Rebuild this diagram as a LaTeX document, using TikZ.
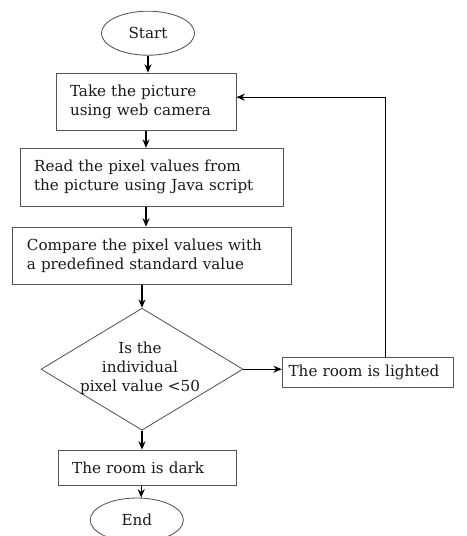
\documentclass[tikz,border=0pt]{standalone}
\usepackage{fontspec}
\setmainfont{DejaVu Serif}
\usepackage{xcolor}
\usepackage{tikz}
\usetikzlibrary{shapes.geometric, arrows.meta, positioning, calc}
\definecolor{edgegray}{HTML}{555555}
\definecolor{textdark}{HTML}{1A1A1A}
\tikzset{
  basenode/.style={draw=edgegray, line width=0.6pt, text=textdark, font=\fontsize{10.8}{13.5}\selectfont, inner sep=0pt},
  termnode/.style={basenode, ellipse, minimum width=2.33cm, minimum height=1.1cm},
  procbox/.style={basenode, rectangle, align=left, text width=#1, inner xsep=0.35cm},
  decnode/.style={basenode, diamond, minimum width=5.05cm, minimum height=3.05cm},
  dectxt/.style={align=center, text=textdark, font=\fontsize{10.8}{13.5}\selectfont, inner sep=0pt},
  arr/.style={-{Stealth[length=6pt, width=5pt]}, line width=0.8pt, black}
}
\begin{document}
\begin{tikzpicture}
\useasboundingbox (0,0) rectangle (11.65,-13.4);

% ===== MAIN COLUMN =====
\node[termnode] (ST) at (3.7, -0.83) {Start};
\node[procbox=3.8cm, minimum height=1.425cm] (TK) at (3.65, -2.54)
  {Take the picture\\using web camera};
\node[procbox=5.875cm, minimum height=1.45cm] (RD) at (3.79, -4.43)
  {Read the pixel values from\\the picture using Java script};
\node[procbox=6.275cm, minimum height=1.425cm] (CMP) at (3.81, -6.39)
  {Compare the pixel values with\\a predefined standard value};
\node[decnode, label={[dectxt, xshift=-0.05cm, yshift=0.03cm]center:Is the\\individual\\pixel value <50}]
  (DEC) at (3.55, -9.23) {};
\node[procbox=3.75cm, minimum height=0.875cm] (DRK) at (3.68, -11.69) {The room is dark};
\node[termnode] (EN) at (3.42, -13.0) {End};

% ===== SIDE BRANCH =====
\node[procbox=3.95cm, inner xsep=0.16cm, minimum height=0.75cm] (LIT) at (9.19, -9.3)
  {The room is lighted};
\coordinate (FB) at (9.63, -2.43);

% ===== MAIN FLOW ARROWS =====
\draw[arr] (ST.south) -- (ST.south |- TK.north);
\draw[arr] (TK.south) -- (TK.south |- RD.north);
\draw[arr] ([xshift=-0.14cm]RD.south) -- ([xshift=-0.14cm]RD.south |- CMP.north);
\draw[arr] ([xshift=-0.26cm]CMP.south) -- (DEC.north);
\draw[arr] (DEC.south) -- (DEC.south |- DRK.north);
\draw[arr] ([xshift=-0.15cm]DRK.south) -- ([xshift=-0.15cm]DRK.south |- EN.north);

% ===== LIGHTED BRANCH + LOOP BACK =====
\draw[arr] (DEC.east) -- (DEC.east -| LIT.west);
\draw[arr] (LIT.north -| FB) -- (FB) -- (FB -| TK.east);

\end{tikzpicture}
\end{document}
